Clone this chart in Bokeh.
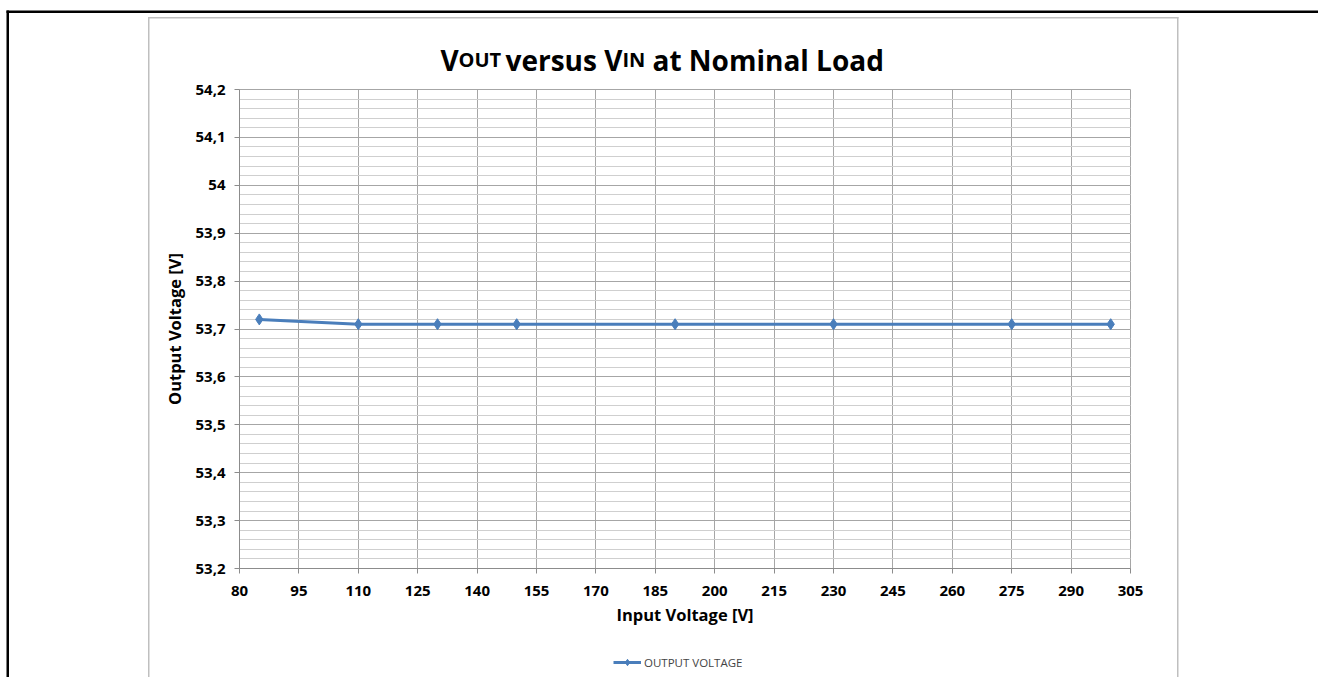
from bokeh.plotting import figure
from bokeh.models import (Range1d, FixedTicker, Label, BoxAnnotation, Legend, LegendItem, Grid)
from bokeh.embed import file_html
from bokeh.resources import INLINE

# ---- data ----
vin = [85, 110, 130, 150, 190, 230, 275, 300]
vout = [53.72, 53.71, 53.71, 53.71, 53.71, 53.71, 53.71, 53.71]
series_name = "OUTPUT VOLTAGE"

x_ticks = [80, 95, 110, 125, 140, 155, 170, 185, 200, 215, 230, 245, 260, 275, 290, 305]
y_ticks = [53.2, 53.3, 53.4, 53.5, 53.6, 53.7, 53.8, 53.9, 54.0, 54.1, 54.2]
y_tick_labels = ["53,2", "53,3", "53,4", "53,5", "53,6", "53,7", "53,8", "53,9", "54", "54,1", "54,2"]

title_parts = [("V", "big"), ("OUT", "small"), ("versus V", "big"), ("IN", "small"), ("at Nominal Load", "big")]
x_label = "Input Voltage [V]"
y_label = "Output Voltage [V]"

# ---- layout (page px) ----
W, H = 1318, 677
XMIN, XMAX = x_ticks[0], x_ticks[-1]
YMIN, YMAX = y_ticks[0], y_ticks[-1]
PL, PR, PT, PB = 239, 1130, 89, 568   # plot-area edges on the page
kx = (PR - PL) / (XMAX - XMIN)
ky = (PB - PT) / (YMAX - YMIN)
x_range = Range1d(XMIN - PL / kx, XMAX + (W - PR) / kx)
y_range = Range1d(YMIN - (H - PB) / ky, YMAX + PT / ky)

def sx(px):
    return px

def sy(py):
    return H - py

p = figure(width=W, height=H, output_backend="svg", toolbar_location=None,
           x_range=x_range, y_range=y_range, min_border=0,
           min_border_left=0, min_border_right=0, min_border_top=0, min_border_bottom=0)
p.background_fill_color = "white"
p.border_fill_color = "white"
p.outline_line_color = None

minor = [round(YMIN + 0.02 * i, 2) for i in range(51)]
p.xaxis.ticker = FixedTicker(ticks=x_ticks)
p.yaxis.ticker = FixedTicker(ticks=y_ticks, minor_ticks=minor)
p.yaxis.major_label_overrides = {t: l for t, l in zip(y_ticks, y_tick_labels)}
p.xaxis.fixed_location = YMIN
p.yaxis.fixed_location = XMIN
p.xaxis.bounds = (XMIN, XMAX)
p.yaxis.bounds = (YMIN, YMAX)

grid_major = "#a6a6a6"
grid_minor = "#cfcfcf"
p.xgrid.bounds = (XMIN, XMAX)
p.ygrid.bounds = (YMIN, YMAX)
p.xgrid.grid_line_color = grid_major
p.ygrid.grid_line_color = grid_major
p.ygrid.minor_grid_line_color = grid_minor
if "cross_bounds" in Grid.properties():
    p.xgrid.cross_bounds = (YMIN, YMAX)
    p.ygrid.cross_bounds = (XMIN, XMAX)
else:
    p.xgrid.visible = False
    p.ygrid.visible = False
    p.segment(x0=[x for x in x_ticks], y0=[YMIN] * len(x_ticks), x1=[x for x in x_ticks], y1=[YMAX] * len(x_ticks),
              line_color=grid_major, line_width=1, level="underlay")
    p.segment(x0=[XMIN] * len(minor), y0=minor, x1=[XMAX] * len(minor), y1=minor,
              line_color=grid_minor, line_width=1, level="underlay")
    p.segment(x0=[XMIN] * len(y_ticks), y0=y_ticks, x1=[XMAX] * len(y_ticks), y1=y_ticks,
              line_color=grid_major, line_width=1, level="underlay")

for ax in (p.xaxis[0], p.yaxis[0]):
    ax.axis_line_color = "#8c8c8c"
    ax.major_tick_line_color = "#8c8c8c"
    ax.major_tick_in = 0
    ax.major_tick_out = 5
    ax.minor_tick_line_color = None
    ax.major_label_text_font = "Open Sans"
    ax.major_label_text_font_style = "bold"
    ax.major_label_text_font_size = "15px"
    ax.major_label_text_color = "black"
    ax.axis_label_text_font = "Open Sans"
    ax.axis_label_text_font_style = "bold"
    ax.axis_label_text_font_size = "16.5px"
    ax.axis_label_text_color = "black"

p.xaxis.axis_label = x_label
p.yaxis.axis_label = y_label
p.xaxis.major_label_standoff = 12
p.xaxis.axis_label_standoff = 4
p.yaxis.major_label_standoff = 9
p.yaxis.axis_label_standoff = 6

blue = "#4a7ebb"
ln = p.line(vin, vout, line_color=blue, line_width=3)
mk = p.scatter(vin, vout, marker="diamond", size=11, fill_color=blue, line_color=blue)

legend = Legend(items=[LegendItem(label=series_name, renderers=[ln, mk])],
                location=(sx(613), sy(670)), orientation="horizontal",
                border_line_color=None, background_fill_alpha=0,
                label_text_font="Open Sans", label_text_font_size="11.5px",
                glyph_width=28, glyph_height=16, padding=4, margin=0, spacing=2,
                label_standoff=3)
p.add_layout(legend)

# borders drawn as thin filled bars (page px: left, right, top, bottom)
def bar(l, r, t, b, color):
    p.add_layout(BoxAnnotation(left=sx(l), right=sx(r), top=sy(t), bottom=sy(b),
                               left_units="screen", right_units="screen",
                               top_units="screen", bottom_units="screen",
                               fill_color=color, fill_alpha=1, line_alpha=0,
                               level="underlay"))

gray = "#bfbfbf"
bar(147.5, 149, 16.5, 677, gray)       # chart area left edge
bar(147.5, 1178, 16.5, 18, gray)       # chart area top edge
bar(1176.5, 1178, 16.5, 677, gray)     # chart area right edge
bar(6, 1318, 10, 12.5, "black")        # outer frame top
bar(6, 8.5, 10, 677, "black")          # outer frame left

# title in pieces (small caps)
sizes = {"big": "28px", "small": "20px"}
starts = [440, 458, 505, 622, 652]
for (txt, kind), x0 in zip(title_parts, starts):
    p.add_layout(Label(x=sx(x0), y=sy(59), x_units="screen", y_units="screen",
                       text=txt, text_font="Open Sans", text_font_style="bold",
                       text_font_size=sizes[kind], text_color="black",
                       text_baseline="alphabetic", text_align="left"))

open("out.html", "w").write(file_html(p, INLINE))
